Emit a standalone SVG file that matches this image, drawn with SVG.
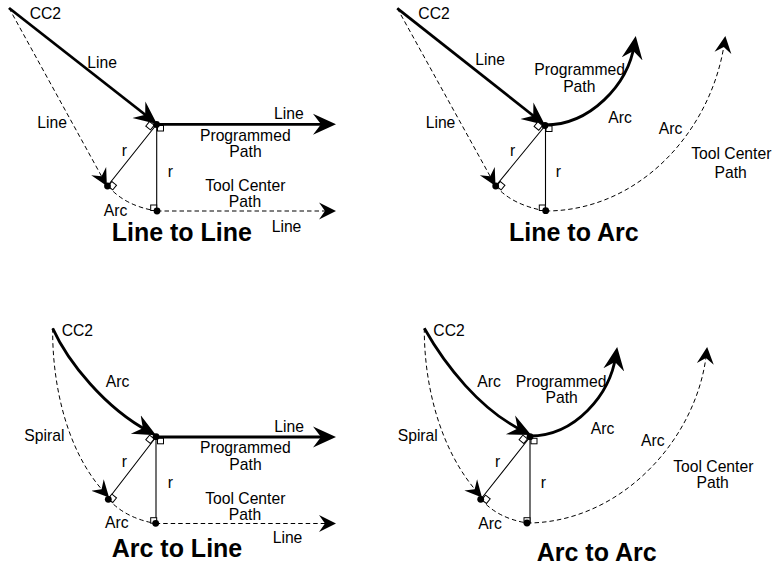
<svg xmlns="http://www.w3.org/2000/svg" width="773" height="565" viewBox="0 0 773 565">
<style>
text{font-family:"Liberation Sans",Arial,sans-serif;font-size:15.7px;fill:#000}
.t{font-size:25px;font-weight:bold}
.m{text-anchor:middle}
.thick{fill:none;stroke:#000;stroke-width:2.8;marker-end:url(#big)}
.dash{fill:none;stroke:#000;stroke-width:1;stroke-dasharray:4.5 3}
.end{marker-end:url(#small)}
.r{fill:none;stroke:#000;stroke-width:1.1}
.sq{fill:#fff;stroke:#000;stroke-width:1}
.dot{fill:#000}
</style>
<defs>
<marker id="big" markerUnits="userSpaceOnUse" markerWidth="26" markerHeight="26" refX="15" refY="12" orient="auto" viewBox="0 0 26 26"><path d="M0,1.5 L23,12 L0,22.5 L8,12 Z" fill="#000"/></marker>
<marker id="small" markerUnits="userSpaceOnUse" markerWidth="20" markerHeight="20" refX="11" refY="10" orient="auto" viewBox="0 0 20 20"><path d="M0,1.5 L17,10 L0,18.5 L6,10 Z" fill="#000"/></marker>
</defs>

<g id="line-to-line">
<g id="connectors-1">
<path class="dash end" d="M9,8 L104,180.7"/>
<path class="dash" d="M108,186 Q125,206 157,211"/>
<path class="dash end" d="M157,211 H330"/>
<path class="r" d="M156.7,124.5 V211 M156.5,124.5 L107.5,186"/>
<path class="thick" d="M9,8 L150.7,119"/>
<path class="thick" d="M157,124.3 H328"/>
</g>
<rect class="sq" x="157.5" y="125.5" width="6" height="5.5"/><rect class="sq" x="150.7" y="205" width="6" height="5.5"/>
<rect class="sq" x="-3" y="-3" width="6" height="6" transform="translate(150 125.7) rotate(39)"/>
<rect class="sq" x="-3" y="-3" width="6" height="6" transform="translate(112.3 185.7) rotate(39)"/>
<circle class="dot" cx="156.5" cy="124.5" r="3.4"/><circle class="dot" cx="107.5" cy="186" r="3.4"/><circle class="dot" cx="157" cy="211" r="3.4"/>
<text x="29.7" y="18.7">CC2</text><text x="87.3" y="67.7">Line</text><text x="37.3" y="128">Line</text><text x="274" y="119">Line</text>
<text class="m" x="245.3" y="140.7">Programmed</text><text class="m" x="245.5" y="157">Path</text>
<text x="121.7" y="155.7">r</text><text x="167.7" y="176.7">r</text>
<text class="m" x="245.3" y="191">Tool Center</text><text class="m" x="245" y="207">Path</text>
<text x="103.7" y="215.7">Arc</text><text x="271.7" y="231.7">Line</text>
<text class="t" x="111.7" y="240.7">Line to Line</text>
</g>

<g id="line-to-arc">
<g id="connectors-2">
<path class="dash end" d="M397.3,8.3 L492.6,180.7"/>
<path class="dash" d="M495.7,186 Q512,205 545.7,211"/>
<path class="dash end" d="M545.7,211 C640,211 712,130 724.5,42"/>
<path class="r" d="M545.5,125.5 V211 M545.3,125.5 L495.7,186"/>
<path class="thick" d="M397.3,8.3 L538.7,120"/>
<path class="thick" d="M545,125 C590,125 628,85 634.5,44"/>
</g>
<rect class="sq" x="546" y="126" width="6" height="5.5"/><rect class="sq" x="539.3" y="205" width="6" height="5.5"/>
<rect class="sq" x="-3" y="-3" width="6" height="6" transform="translate(538.3 126) rotate(39)"/>
<rect class="sq" x="-3" y="-3" width="6" height="6" transform="translate(500.7 185.7) rotate(39)"/>
<circle class="dot" cx="545" cy="125.5" r="3.4"/><circle class="dot" cx="495.7" cy="186" r="3.4"/><circle class="dot" cx="545.7" cy="210.7" r="3.4"/>
<text x="418.3" y="18.7">CC2</text><text x="475.3" y="65">Line</text><text x="425.7" y="128">Line</text>
<text x="534.3" y="75">Programmed</text><text class="m" x="579.3" y="91.7">Path</text>
<text x="608.3" y="122.7">Arc</text><text x="658.7" y="134.3">Arc</text>
<text class="m" x="731.3" y="159.3">Tool Center</text><text class="m" x="730.7" y="177.7">Path</text>
<text x="510" y="155.7">r</text><text x="555.7" y="176.7">r</text>
<text class="t" x="509" y="240.7">Line to Arc</text>
</g>

<g id="arc-to-line">
<g id="connectors-3">
<path class="dash end" d="M52.7,328.3 C52,380 65,450 105,493"/>
<path class="dash" d="M108.3,499 Q125,518 155.7,523.5"/>
<path class="dash end" d="M155.7,523.5 H330"/>
<path class="r" d="M156,437 V523 M156,437 L108.3,499"/>
<path class="thick" d="M52.7,328.3 C68,362 105,408 149,431.5"/>
<path class="thick" d="M156,437 H328"/>
</g>
<rect class="sq" x="157.5" y="438.3" width="6" height="5.5"/><rect class="sq" x="150.7" y="517.7" width="6" height="5.5"/>
<rect class="sq" x="-3" y="-3" width="6" height="6" transform="translate(150 439.3) rotate(39)"/>
<rect class="sq" x="-3" y="-3" width="6" height="6" transform="translate(112.3 498.3) rotate(39)"/>
<circle class="dot" cx="156" cy="436.7" r="3.4"/><circle class="dot" cx="108.3" cy="499.3" r="3.4"/><circle class="dot" cx="155.7" cy="523.3" r="3.4"/>
<text x="61.7" y="335.7">CC2</text><text x="105.7" y="386.7">Arc</text><text x="24.3" y="441">Spiral</text><text x="274.3" y="432.3">Line</text>
<text class="m" x="245.3" y="453.3">Programmed</text><text class="m" x="245.5" y="470">Path</text>
<text x="121.7" y="467.3">r</text><text x="167.7" y="487.7">r</text>
<text class="m" x="245.3" y="503.7">Tool Center</text><text class="m" x="245" y="520">Path</text>
<text x="105" y="528.3">Arc</text><text x="272.7" y="542.7">Line</text>
<text class="t" x="111.7" y="556.7">Arc to Line</text>
</g>

<g id="arc-to-arc">
<g id="connectors-4">
<path class="dash end" d="M424.3,328.3 C424,385 440,450 478,493"/>
<path class="dash" d="M481,499 Q497,518 527,523"/>
<path class="dash end" d="M527,523 C620,523 697,440 706.5,353"/>
<path class="r" d="M530,437 V523 M530,437 L481,499"/>
<path class="thick" d="M424.3,328.3 C445,365 480,410 524,431.5"/>
<path class="thick" d="M530,436 C575,436 610,395 616,355"/>
</g>
<rect class="sq" x="531" y="438.3" width="6" height="5.5"/><rect class="sq" x="524" y="517.7" width="6" height="5.5"/>
<rect class="sq" x="-3" y="-3" width="6" height="6" transform="translate(523.3 439.3) rotate(39)"/>
<rect class="sq" x="-3" y="-3" width="6" height="6" transform="translate(486 499.3) rotate(39)"/>
<circle class="dot" cx="530" cy="436.7" r="3.4"/><circle class="dot" cx="480.7" cy="499.3" r="3.4"/><circle class="dot" cx="527" cy="523" r="3.4"/>
<text x="433.3" y="335.7">CC2</text><text x="477.3" y="386.7">Arc</text><text x="515.7" y="386.7">Programmed</text><text class="m" x="561.7" y="403.3">Path</text>
<text x="397.7" y="441">Spiral</text><text x="590.7" y="434.3">Arc</text><text x="641" y="446">Arc</text>
<text class="m" x="713.3" y="471.7">Tool Center</text><text class="m" x="712.7" y="488.3">Path</text>
<text x="495" y="466.7">r</text><text x="540.7" y="487.7">r</text><text x="478.3" y="529">Arc</text>
<text class="t" x="536.7" y="561">Arc to Arc</text>
</g>
</svg>
